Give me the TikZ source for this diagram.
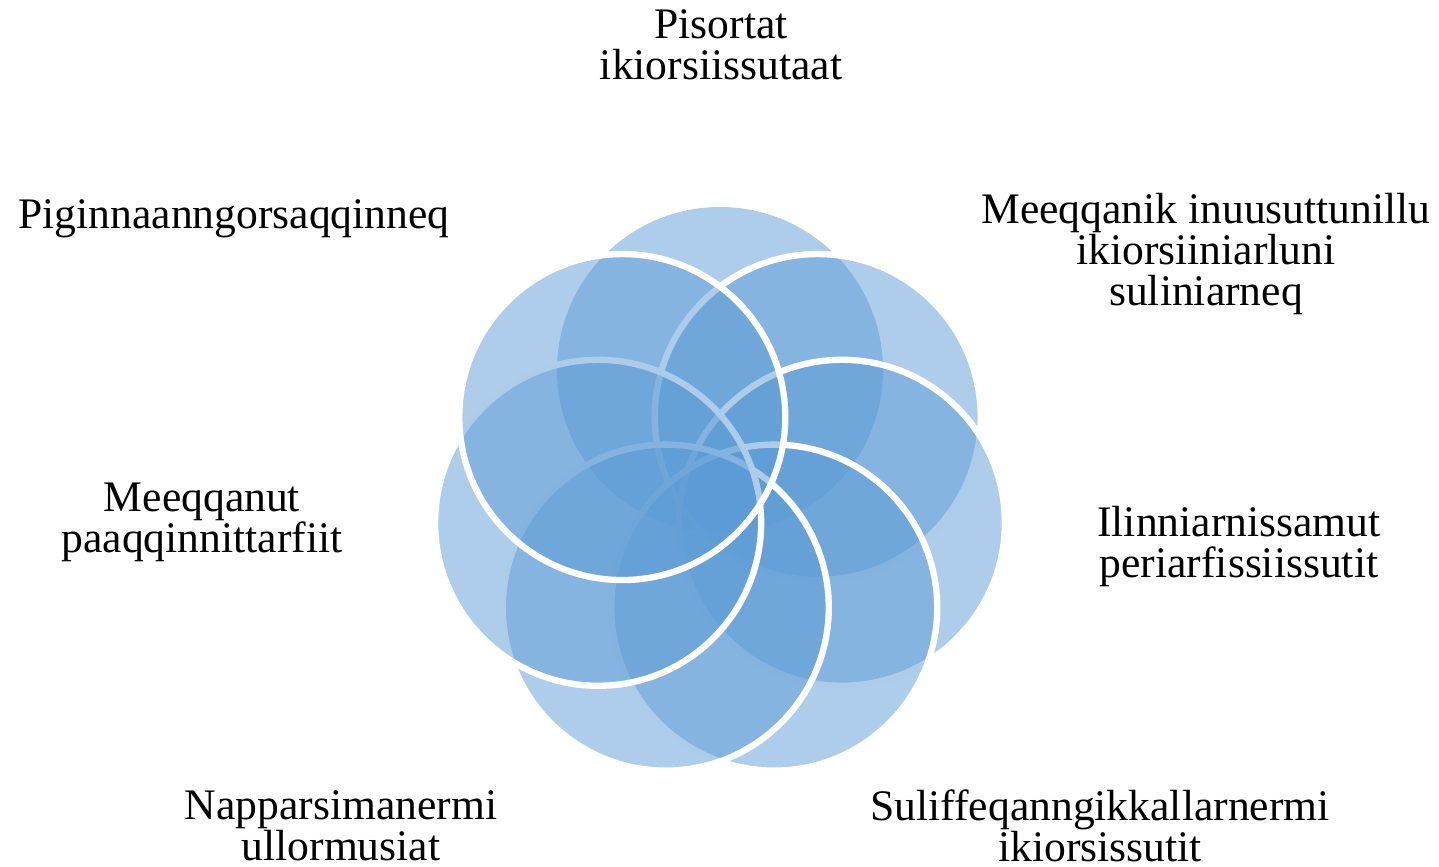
\documentclass[tikz,border=0pt]{standalone}
\usepackage{fontspec}
\setmainfont{Liberation Serif}
\usepackage{xcolor}
\usetikzlibrary{calc}
\definecolor{petalblue}{RGB}{91,155,213}
\tikzset{
  petal/.style={fill=petalblue, fill opacity=0.5},
  rimmed/.style={petal, draw=white, line width=1.8pt},
  caption/.style={align=center, inner sep=0pt, font=\fontsize{12.4}{11.67}\selectfont}
}
\begin{document}
\begin{tikzpicture}[x=0.01cm,y=0.01cm]
        \useasboundingbox (0,0) rectangle (1439,867);
        % coordinates
        \coordinate (hub) at (720,372);
        
        % circles
        \fill[petal] ($(hub)+(90:125)$) circle (163);
        \foreach \k in {1,...,6}
            \filldraw[rimmed] ($(hub)+(90-\k*360/7:125)$) circle (163);
        
        % Text
        \node[caption] (pisortat) at (721,822) {Pisortat\\ikiorsiissutaat};
        \node[caption] (meeqqanik) at (1206,613) {Meeqqanik inuusuttunillu\\ikiorsiiniarluni\\suliniarneq};
        \node[caption] (ilinniarnissamut) at (1239,320) {Ilinniarnissamut\\periarfissiissutit};
        \node[caption] (suliffeqanngikkallarnermi) at (1100,41) {Suliffeqanngikkallarnermi\\ikiorsissutit};
        \node[caption] (napparsimanermi) at (341,41) {Napparsimanermi\\ullormusiat};
        \node[caption] (meeqqanut) at (202,345) {Meeqqanut\\paaqqinnittarfiit};
        \node[caption, anchor=base] (piginnaanngorsaqqinneq) at (234,638) {Piginnaanngorsaqqinneq};
    \end{tikzpicture}
\end{document}
